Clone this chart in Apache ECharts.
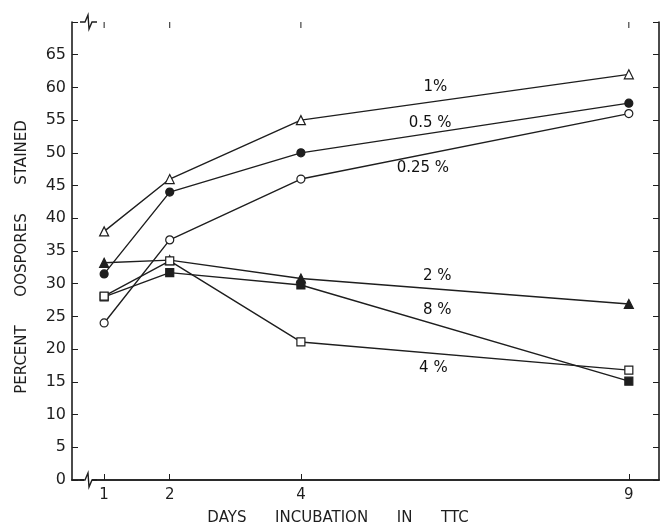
<!DOCTYPE html>
<html>
<head>
<meta charset="utf-8">
<script src="https://cdn.jsdelivr.net/npm/echarts@6/dist/echarts.min.js"></script>
<style>html,body{margin:0;padding:0;background:#fff;}#c{width:662px;height:530px;}</style>
</head>
<body>
<div id="c"></div>
<script>
// ---- data ----
const days = [1, 2, 4, 9];
const yTicks = [0, 5, 10, 15, 20, 25, 30, 35, 40, 45, 50, 55, 60, 65];
const s1pct   = [38, 46, 55, 62];        // open triangle
const s05pct  = [31.5, 44, 50, 57.6];    // filled circle
const s025pct = [24, 36.7, 46, 56];      // open circle
const s2pct   = [33.2, 33.6, 30.8, 26.9];// filled triangle
const s8pct   = [28, 31.7, 29.8, 15.1];  // filled square
const s4pct   = [28.1, 33.5, 21.1, 16.8];// open square
const labelText = ['1%', '0.5 %', '0.25 %', '2 %', '8 %', '4 %'];
const labelX = [6.05, 5.97, 5.86, 6.08, 6.08, 6.02];
const labelY = [60.1, 54.6, 47.7, 31.2, 26.0, 17.1];
const xTitle = 'DAYS      INCUBATION      IN      TTC';
const yTitle = 'PERCENT      OOSPORES      STAINED';

const ink = '#1e1e1e';
const font = 'DejaVu Sans';
function pairs(vals) { return days.map((d, i) => [d, vals[i]]); }
function mk(name, vals, symbol, filled) {
  return {
    name, type: 'line', data: pairs(vals), symbol, symbolSize: symbol === 'triangle' ? 9 : 8,
    lineStyle: { color: ink, width: 1.4 },
    itemStyle: { color: filled ? ink : '#fff', borderColor: ink, borderWidth: 1.2 },
    emphasis: { disabled: true }, z: 3
  };
}
const chart = echarts.init(document.getElementById('c'), null, { renderer: 'canvas' });
const xCommon = {
  type: 'value', min: 0.51, max: 9.46,
  axisLine: { show: true, lineStyle: { color: ink, width: 1.6 } },
  axisTick: { show: true, inside: true, length: 6, customValues: days, lineStyle: { color: ink } },
  splitLine: { show: false }
};
const yCommon = {
  type: 'value', min: 0, max: 70, interval: 5,
  axisLine: { show: true, lineStyle: { color: ink, width: 1.6 } },
  axisTick: { show: true, inside: true, length: 6, lineStyle: { color: ink } },
  splitLine: { show: false }
};
const baseGraphic = [
  { type: 'text', x: 338, y: 518, style: { text: xTitle, fill: ink, font: '15px ' + font, textAlign: 'center', textVerticalAlign: 'middle' } },
  { type: 'text', x: 22, y: 257, rotation: Math.PI / 2, style: { text: yTitle, fill: ink, font: '15px ' + font, textAlign: 'center', textVerticalAlign: 'middle' } },
  // axis break marks
  { type: 'rect', shape: { x: 84, y: 18, width: 8, height: 8 }, style: { fill: '#fff' }, z: 10 },
  { type: 'polyline', shape: { points: [[80, 22], [85, 22], [88, 15], [89, 29], [92, 22], [97, 22]] }, style: { stroke: ink, lineWidth: 1.4, fill: null }, z: 11 },
  { type: 'rect', shape: { x: 84, y: 476, width: 8, height: 8 }, style: { fill: '#fff' }, z: 10 },
  { type: 'polyline', shape: { points: [[80, 480], [85, 480], [88, 473], [89, 487], [92, 480], [97, 480]] }, style: { stroke: ink, lineWidth: 1.4, fill: null }, z: 11 }
];
chart.setOption({
  animation: false,
  backgroundColor: '#fff',
  grid: { left: 72, top: 22, right: 3, bottom: 50 },
  xAxis: [
    Object.assign({}, xCommon, { position: 'bottom',
      axisLabel: { show: true, customValues: days, color: ink, fontFamily: font, fontSize: 15, margin: 8 } }),
    Object.assign({}, xCommon, { position: 'top', axisTick: { show: false }, axisLabel: { show: false } })
  ],
  yAxis: [
    Object.assign({}, yCommon, { position: 'left',
      axisLabel: { show: true, color: ink, fontFamily: font, fontSize: 16, margin: 6,
        formatter: v => yTicks.indexOf(v) >= 0 ? String(v) : '' } }),
    Object.assign({}, yCommon, { position: 'right', axisLabel: { show: false } })
  ],
  series: [
    mk('1%', s1pct, 'triangle', false),
    mk('0.5%', s05pct, 'circle', true),
    mk('0.25%', s025pct, 'circle', false),
    mk('2%', s2pct, 'triangle', true),
    mk('8%', s8pct, 'rect', true),
    mk('4%', s4pct, 'rect', false),
    {
      type: 'scatter', symbolSize: 0, silent: true, z: 4,
      data: labelText.map((t, i) => ({ name: t, value: [labelX[i], labelY[i]] })),
      itemStyle: { opacity: 1 },
      label: { show: true, position: 'inside', formatter: p => p.name, color: '#111', fontFamily: font, fontSize: 15 }
    }
  ],
  graphic: baseGraphic
});
// top-axis ticks placed via the library's own scale
const topY = chart.convertToPixel({ yAxisIndex: 0 }, 70);
const topTicks = days.map(d => {
  const px = chart.convertToPixel({ xAxisIndex: 0 }, d);
  return { type: 'line', shape: { x1: px, y1: topY, x2: px, y2: topY + 6 }, style: { stroke: ink, lineWidth: 1 }, z: 9 };
});
chart.setOption({ graphic: baseGraphic.concat(topTicks) }, { replaceMerge: ['graphic'] });
</script>
</body>
</html>
